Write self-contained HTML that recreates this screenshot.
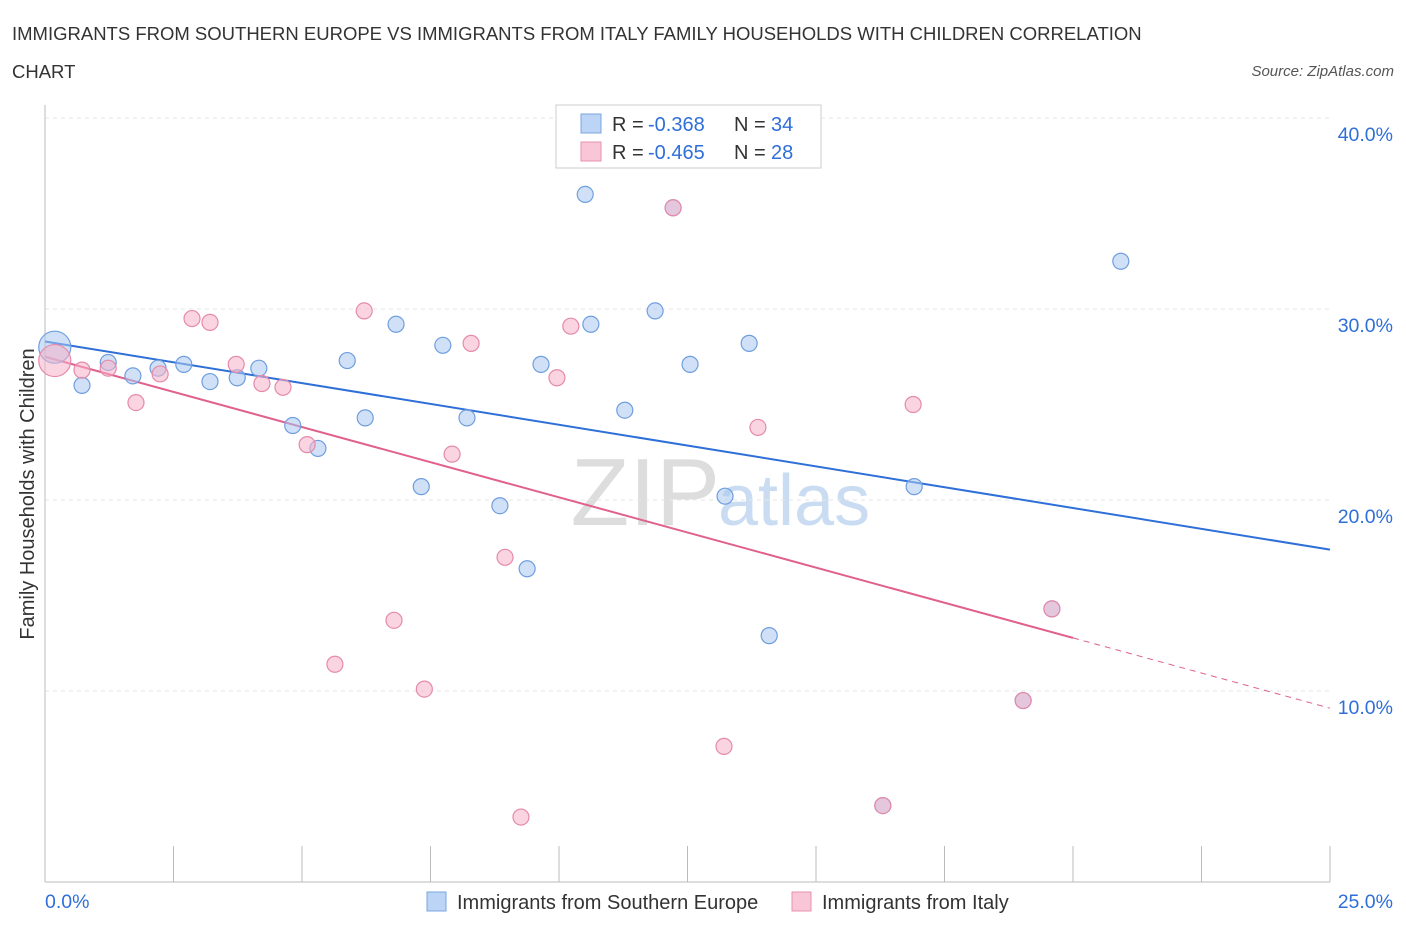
<!DOCTYPE html>
<html><head><meta charset="utf-8"><style>
body{margin:0;background:#fff;font-family:"Liberation Sans",sans-serif;}
svg text{font-family:"Liberation Sans",sans-serif;}
</style></head><body>
<svg id="chart" width="1406" height="930" viewBox="0 0 1406 930">
<text x="12" y="40" font-size="18.5" fill="#333">IMMIGRANTS FROM SOUTHERN EUROPE VS IMMIGRANTS FROM ITALY FAMILY HOUSEHOLDS WITH CHILDREN CORRELATION</text>
<text x="12" y="78" font-size="18.5" fill="#333">CHART</text>
<text x="1394" y="76" font-size="15" fill="#555" font-style="italic" text-anchor="end">Source: ZipAtlas.com</text>
<text x="720" y="525" font-size="96" fill="#ddd" text-anchor="end" font-family="Liberation Serif">ZIP</text>
<text x="718" y="525" font-size="72" fill="#c9dcf2">atlas</text>
<g id="grid"></g>
<g id="axes"></g>
<g id="lines"></g>
<g id="points"></g>
<text x="34" y="494" font-size="20" fill="#333" text-anchor="middle" transform="rotate(-90 34 494)">Family Households with Children</text>
<g>
<rect x="556" y="105" width="265" height="63" fill="#fff" stroke="#ccc"/>
<rect x="581" y="114" width="20" height="19" fill="#bcd4f5" stroke="#7aa6e0"/>
<text x="612" y="131" font-size="20" fill="#333">R = </text><text x="648" y="131" font-size="20" fill="#2f6fd8">-0.368</text>
<text x="734" y="131" font-size="20" fill="#333">N = </text><text x="771" y="131" font-size="20" fill="#2f6fd8">34</text>
<rect x="581" y="142" width="20" height="19" fill="#f8c6d6" stroke="#e891ad"/>
<text x="612" y="159" font-size="20" fill="#333">R = </text><text x="648" y="159" font-size="20" fill="#2f6fd8">-0.465</text>
<text x="734" y="159" font-size="20" fill="#333">N = </text><text x="771" y="159" font-size="20" fill="#2f6fd8">28</text>
</g>
<g>
<rect x="427" y="892" width="19" height="19" fill="#bcd4f5" stroke="#7aa6e0"/>
<text x="457" y="909" font-size="20" fill="#333">Immigrants from Southern Europe</text>
<rect x="792" y="892" width="19" height="19" fill="#f8c6d6" stroke="#e891ad"/>
<text x="822" y="909" font-size="20" fill="#333">Immigrants from Italy</text>
</g>
</svg>
<script>
const blueX=[0.19,0.72,1.23,1.71,2.20,2.70,3.21,3.74,4.16,4.82,5.31,5.88,6.23,6.83,7.32,7.74,8.21,8.85,9.38,9.65,10.51,10.62,11.28,11.87,12.22,12.55,13.23,13.70,14.09,16.30,16.91,19.03,19.59,20.93];
const blueY=[28.0,26.0,27.2,26.5,26.9,27.1,26.2,26.4,26.9,23.9,22.7,27.3,24.3,29.2,20.7,28.1,24.3,19.7,16.4,27.1,36.0,29.2,24.7,29.9,35.3,27.1,20.2,28.2,12.9,4.0,20.7,9.5,14.3,32.5];
const pinkX=[0.19,0.72,1.23,1.77,2.24,2.86,3.21,3.72,4.22,4.63,5.10,5.64,6.21,6.79,7.38,7.92,8.29,8.95,9.26,9.96,10.23,12.22,13.21,13.87,16.30,16.89,19.03,19.59];
const pinkY=[27.3,26.8,26.9,25.1,26.6,29.5,29.3,27.1,26.1,25.9,22.9,11.4,29.9,13.7,10.1,22.4,28.2,17.0,3.4,26.4,29.1,35.3,7.1,23.8,4.0,25.0,9.5,14.3];
const blueTrend=[28.3,17.4];
const pinkTrend=[27.5,9.1];
const pinkSolidEnd=20;
const yTicks=[10,20,30,40];
const xTickCount=10;
const NS="http://www.w3.org/2000/svg";
const X=v=>45+v/25*1285;
const Y=v=>882-v*19.1;
function mk(tag,attrs,parent){const e=document.createElementNS(NS,tag);for(const k in attrs)e.setAttribute(k,attrs[k]);parent.appendChild(e);return e;}
const grid=document.getElementById('grid'),axes=document.getElementById('axes'),lines=document.getElementById('lines'),pts=document.getElementById('points');
yTicks.forEach(t=>{
 const l=mk('line',{x1:45,x2:1330,y1:Y(t),y2:Y(t),stroke:'#e6e6e6','stroke-dasharray':'4,4'},grid);
 
 
 const tx=mk('text',{x:1393,y:Y(t)+23,'font-size':19.5,fill:'#2f6fd8','text-anchor':'end'},grid);
 tx.textContent=t.toFixed(1)+'%';
 
 
});
const ax=mk('line',{x1:45,x2:1330,y1:882,y2:882,stroke:'#bbb'},axes);


const ay=mk('line',{x1:45,x2:45,y1:105,y2:882,stroke:'#bbb'},axes);


for(let i=0;i<=xTickCount;i++){
 const x=X(i*25/xTickCount);
 const t=mk('line',{x1:x,x2:x,y1:846,y2:882,stroke:'#bbb'},axes);
 
 
}
const xl0=mk('text',{x:45,y:908,'font-size':19.5,fill:'#2f6fd8'},axes);xl0.textContent='0.0%';


const xl1=mk('text',{x:1393,y:908,'font-size':19.5,fill:'#2f6fd8','text-anchor':'end'},axes);xl1.textContent='25.0%';


function drawPts(xs,ys,fill,stroke,name){
 xs.forEach((v,i)=>{
  const big=i===0;
  const c=mk('circle',{cx:X(v),cy:Y(ys[i]),r:big?16:8,fill:fill,'fill-opacity':0.55,stroke:stroke,'stroke-width':1.2},pts);
  
  
 });
}
drawPts(blueX,blueY,'#a9c8f0','#6f9edf','point-southern-europe');
drawPts(pinkX,pinkY,'#f5b3c8','#e58aaa','point-italy');
const bl=mk('line',{x1:X(0),y1:Y(blueTrend[0]),x2:X(25),y2:Y(blueTrend[1]),stroke:'#2f6fd8','stroke-width':2},lines);


const pm=v=>pinkTrend[0]+(pinkTrend[1]-pinkTrend[0])*v/25;
const pl=mk('line',{x1:X(0),y1:Y(pinkTrend[0]),x2:X(pinkSolidEnd),y2:Y(pm(pinkSolidEnd)),stroke:'#e0608e','stroke-width':2},lines);


const pd=mk('line',{x1:X(pinkSolidEnd),y1:Y(pm(pinkSolidEnd)),x2:X(25),y2:Y(pinkTrend[1]),stroke:'#e0608e','stroke-width':1,'stroke-dasharray':'6,5'},lines);


</script>
</body></html>
